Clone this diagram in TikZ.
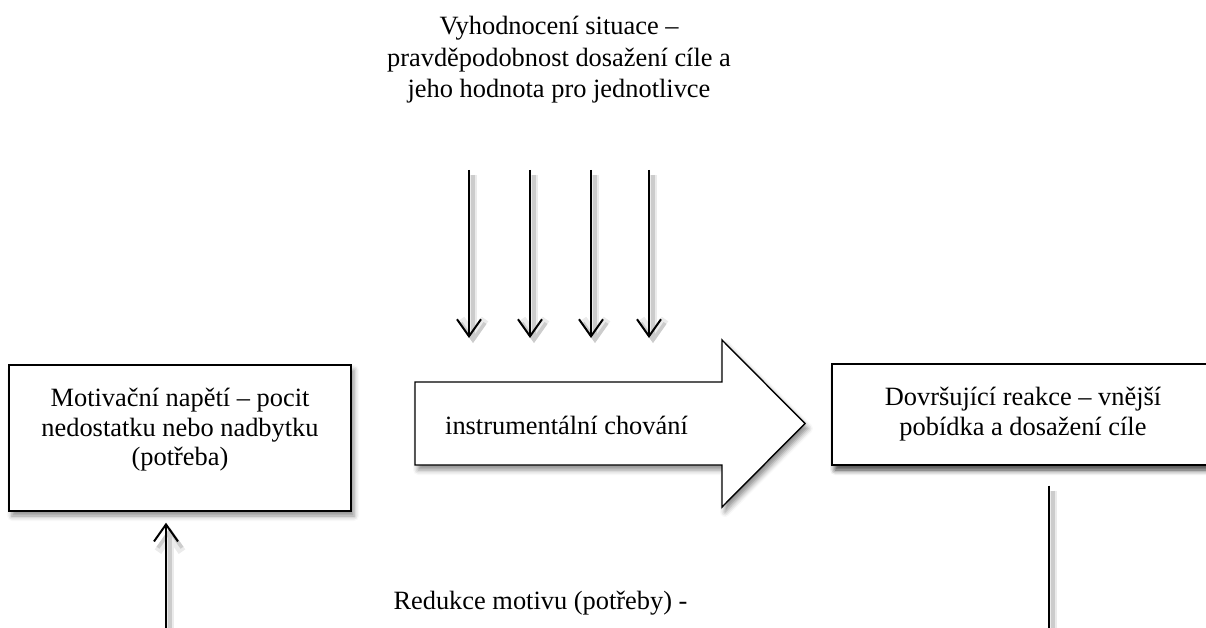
\documentclass[tikz,border=0pt]{standalone}
\usepackage{fontspec}
\setmainfont{Liberation Serif}
\usetikzlibrary{arrows.meta,shadows.blur}
\begin{document}
\begin{tikzpicture}[x=1pt,y=-1pt,
  txt/.style={font=\fontsize{26.4}{30}\selectfont, align=center, inner sep=0pt},
  softshadow/.style={blur shadow={shadow xshift=3pt, shadow yshift=-5pt, shadow blur radius=5pt, shadow opacity=45}},
  boxnode/.style={draw, line width=1.4pt, fill=white, softshadow, inner sep=0pt},
  bigarrow/.style={draw, line width=1.4pt, fill=white, line join=miter, softshadow},
  arr/.style={line width=2pt, -{Straight Barb[length=17pt,width=24pt,line width=2pt]},
    preaction={draw=black!8, line width=8pt, -{Straight Barb[length=17pt,width=24pt,line width=8pt]}, transform canvas={shift={(4pt,-5pt)}}},
    preaction={draw=black!20, line width=3.5pt, -{Straight Barb[length=17pt,width=24pt,line width=3.5pt]}, transform canvas={shift={(4pt,-5pt)}}}},
  plainline/.style={line width=2pt,
    preaction={draw=black!8, line width=8pt, transform canvas={shift={(4pt,-5pt)}}},
    preaction={draw=black!20, line width=3.5pt, transform canvas={shift={(4pt,-5pt)}}}}
]
\useasboundingbox (0,0) rectangle (1206,628);
\clip (0,0) rectangle (1206,628);

% top text
\node[txt, font=\fontsize{26.4}{31.5}\selectfont] (eval) at (559,60)
  {Vyhodnocení situace –\\pravděpodobnost dosažení cíle a\\jeho hodnota pro jednotlivce};

% down arrows
\foreach \i/\x in {1/469,2/530,3/591,4/649}{
  \coordinate (ds\i) at (\x,170);
  \coordinate (de\i) at (\x,338);
  \draw[arr] (ds\i) -- (de\i);
}

% big arrow
\draw[bigarrow] (415,382) -- (722,382) -- (722,340) -- (805,423.5) -- (722,507) -- (722,465) -- (415,465) -- cycle;
\node[txt] (instr) at (566.5,425) {instrumentální chování};

% left box
\node[boxnode, minimum width=342pt, minimum height=146pt] (lbox) at (180,438) {};
\node[txt, font=\fontsize{26.4}{29.5}\selectfont] (ltext) at (180,430) {Motivační napětí – pocit\\nedostatku nebo nadbytku\\(potřeba)};

% right box
\node[boxnode, txt, draw, line width=1.4pt, fill=white, softshadow, minimum width=382pt, minimum height=101pt] (rbox) at (1023,414.5)
  {Dovršující reakce – vnější\\pobídka a dosažení cíle};

% up arrow into left box
\coordinate (u0) at (166,660);
\draw[arr, shorten >=11pt] (u0) -- (u0 |- lbox.south);

% line down from right box
\coordinate (r0) at (1049,660);
\draw[plainline, shorten <=20pt] (r0 |- rbox.south) -- (r0);

% bottom text
\node[txt] (reduk) at (540.5,603) {Redukce motivu (potřeby) -};
\end{tikzpicture}
\end{document}
